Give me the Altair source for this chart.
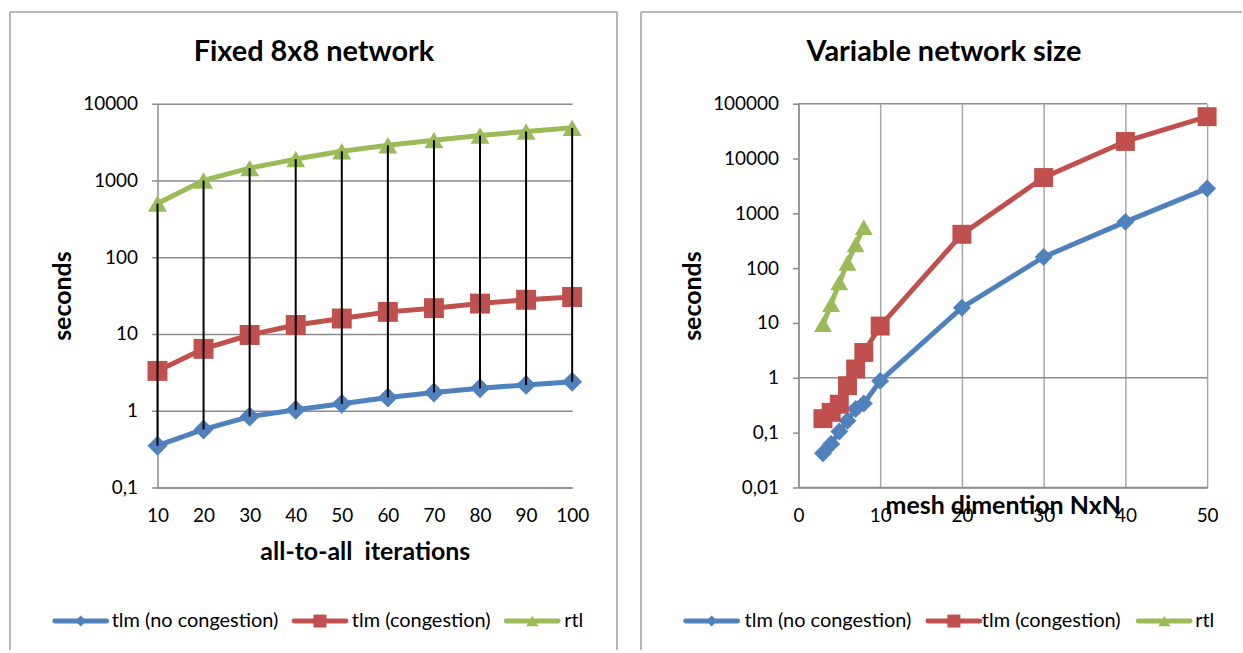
import altair as alt
import pandas as pd

# ---------------- data ----------------
series_names = ["tlm (no congestion)", "tlm (congestion)", "rtl"]
series_colors = ["#4f81bd", "#c0504d", "#9bbb59"]
series_shapes = ["diamond", "square", "triangle-up"]

# left panel: fixed 8x8 network
iterations = [10, 20, 30, 40, 50, 60, 70, 80, 90, 100]
left_tlm_nc = [0.35, 0.57, 0.84, 1.03, 1.23, 1.49, 1.73, 1.96, 2.17, 2.38]
left_tlm_c = [3.3, 6.4, 9.7, 13.1, 15.9, 19.4, 21.7, 24.9, 27.9, 30.3]
left_rtl = [500, 1000, 1450, 1900, 2400, 2870, 3350, 3850, 4350, 4850]

# right panel: variable network size
mesh_dim = [3, 4, 5, 6, 7, 8, 10, 20, 30, 40, 50]
right_tlm_nc = [0.042, 0.062, 0.105, 0.165, 0.27, 0.34, 0.88, 19, 160, 700, 2850]
right_tlm_c = [0.18, 0.235, 0.33, 0.72, 1.45, 2.9, 8.8, 415, 4500, 20500, 58000]
rtl_dim = [3, 4, 5, 6, 7, 8]
right_rtl = [9.5, 22, 55, 125, 270, 560]

left_y_ticks = [0.1, 1, 10, 100, 1000, 10000]
right_y_ticks = [0.01, 0.1, 1, 10, 100, 1000, 10000, 100000]
right_x_ticks = [0, 10, 20, 30, 40, 50]
right_hlines = [0.01, 1, 100000]

titles = ["Fixed 8x8 network", "Variable network size"]
x_titles = ["all-to-all\u00a0 iterations", "mesh dimention NxN"]
y_title = "seconds"

FONT = "Lato"
GRID = "#8c8c8c"
AXIS = "#8c8c8c"

left_df = pd.DataFrame(
    [{"x": x, "value": v, "series": s}
     for s, vals in zip(series_names, [left_tlm_nc, left_tlm_c, left_rtl])
     for x, v in zip(iterations, vals)]
)
right_df = pd.DataFrame(
    [{"x": x, "value": v, "series": s}
     for s, xs, vals in zip(series_names,
                            [mesh_dim, mesh_dim, rtl_dim],
                            [right_tlm_nc, right_tlm_c, right_rtl])
     for x, v in zip(xs, vals)]
)

color_scale = alt.Scale(domain=series_names, range=series_colors)

LABEL_EXPR = "replace(toString(datum.value), '.', ',')"
TICK_FS = 19
AX_TITLE_FS = 25
LEGEND_MARKER_SIZES = [120, 169, 150]


def legend_layers(symbol_centers, label_starts, ly):
    """Legend drawn below the plot: thick line + marker + label per series."""
    out = []
    one = pd.DataFrame({"k": [0]})
    for name, col, shp, msz, cx, lx in zip(series_names, series_colors, series_shapes,
                                           LEGEND_MARKER_SIZES, symbol_centers, label_starts):
        out.append(alt.Chart(one).mark_rule(color=col, strokeWidth=5, strokeCap="round").encode(
            x=alt.value(cx - 26), x2=alt.value(cx + 26), y=alt.value(ly)))
        out.append(alt.Chart(one).mark_point(shape=shp, filled=True, size=msz, opacity=1,
                                             color=col, strokeWidth=0).encode(
            x=alt.value(cx), y=alt.value(ly)))
        out.append(alt.Chart(pd.DataFrame({"t": [name]})).mark_text(
            font=FONT, fontSize=20, align="left", baseline="middle", color="black").encode(
            text="t:N", x=alt.value(lx), y=alt.value(ly)))
    return out


def panel(df, width, height, xscale, xaxis, yscale, yaxis, border, title_x,
          legend_spec, sizes, highlow):
    X = lambda: alt.X("x:Q", scale=xscale, axis=xaxis)
    Y = lambda f="value": alt.Y(f, type="quantitative", scale=yscale, axis=yaxis)
    one = pd.DataFrame({"k": [0]})
    bl, br, bt, bb, has_right = border
    layers = []
    layers.append(alt.Chart(one).mark_rule(color="#a0a0a0", strokeWidth=1.5).encode(
        x=alt.value(bl), y=alt.value(bt), y2=alt.value(bb)))
    layers.append(alt.Chart(one).mark_rule(color="#a0a0a0", strokeWidth=1.5).encode(
        x=alt.value(bl), x2=alt.value(br), y=alt.value(bt)))
    if has_right:
        layers.append(alt.Chart(one).mark_rule(color="#a0a0a0", strokeWidth=1.5).encode(
            x=alt.value(br), y=alt.value(bt), y2=alt.value(bb)))
    layers.append(
        alt.Chart(pd.DataFrame({"t": [title_x[0]]})).mark_text(
            font=FONT, fontWeight="bold", fontSize=29, align="center",
            baseline="middle", color="black"
        ).encode(text="t:N", x=alt.value(title_x[1]), y=alt.value(-52))
    )
    if title_x[2] is not None:
        layers.append(
            alt.Chart(pd.DataFrame({"value": title_x[2]})).mark_rule(
                color=GRID, strokeWidth=1.5
            ).encode(y=Y(), x=alt.value(0), x2=alt.value(width))
        )
    layers.append(
        alt.Chart(df).mark_line(strokeWidth=5, strokeJoin="round").encode(
            x=X(), y=Y(),
            color=alt.Color("series:N", scale=color_scale, legend=None),
        )
    )
    for name, col, shp, sz in zip(series_names, series_colors, series_shapes, sizes):
        layers.append(
            alt.Chart(df).transform_filter(alt.datum.series == name).mark_point(
                shape=shp, filled=True, size=sz, opacity=1, color=col, strokeWidth=0
            ).encode(x=X(), y=Y())
        )
    if highlow:
        layers.append(
            alt.Chart(df).mark_rule(color="black", strokeWidth=2).encode(
                x=X(), y=Y("min(value)"), y2=alt.Y2("max(value)")
            )
        )
    layers.extend(legend_layers(*legend_spec))
    return alt.layer(*layers).properties(width=width, height=height)


LW, RW, H = 416, 410, 385

left = panel(
    left_df, LW, H,
    alt.Scale(domain=[10, 100], nice=False, zero=False),
    alt.Axis(values=iterations, grid=False, ticks=False, tickSize=0, labelPadding=19,
             labelFlush=False, labelFont=FONT, labelFontSize=TICK_FS, labelColor="black",
             domainColor=AXIS, domainWidth=1.5,
             title=x_titles[0], titleFont=FONT, titleFontSize=AX_TITLE_FS, titleFontWeight="bold",
             titleColor="black", titleX=LW / 2, titleY=64, titleBaseline="middle",
             titleAlign="center"),
    alt.Scale(type="log", domain=[0.1, 10000], nice=False),
    alt.Axis(values=left_y_ticks, labelExpr=LABEL_EXPR, grid=True, gridColor=GRID,
             gridWidth=1.5, domainColor=AXIS, domainWidth=1.5, tickColor=AXIS,
             tickWidth=1.5, tickSize=6, labelPadding=14, labelFont=FONT,
             labelFontSize=TICK_FS, labelColor="black",
             title=y_title, titleFont=FONT, titleFontSize=AX_TITLE_FS, titleFontWeight="bold",
             titleColor="black", titleX=-95, titleY=H / 2, titleAngle=270,
             titleBaseline="middle", titleAlign="center"),
    (-148, 461, -92, 548, True),
    (titles[0], 157, None),
    ([-77, 163, 376], [-46, 195, 408], 519),
    [400, 400, 361],
    True,
)

right = panel(
    right_df, RW, H,
    alt.Scale(domain=[0, 50], nice=False, zero=False),
    alt.Axis(values=right_x_ticks, grid=True, gridColor="#a6a6a6", gridWidth=1.5,
             ticks=False, tickSize=0, labelPadding=19, labelFlush=False,
             labelFont=FONT, labelFontSize=TICK_FS, labelColor="black",
             domainColor=AXIS, domainWidth=1.5,
             title=x_titles[1], titleFont=FONT, titleFontSize=AX_TITLE_FS, titleFontWeight="bold",
             titleColor="black", titleX=205, titleY=18, titleBaseline="middle",
             titleAlign="center"),
    alt.Scale(type="log", domain=[0.01, 100000], nice=False),
    alt.Axis(values=right_y_ticks, labelExpr=LABEL_EXPR, grid=False,
             domainColor=AXIS, domainWidth=1.5, tickColor=AXIS,
             tickWidth=1.5, tickSize=6, labelPadding=14, labelFont=FONT,
             labelFontSize=TICK_FS, labelColor="black",
             title=y_title, titleFont=FONT, titleFontSize=AX_TITLE_FS, titleFontWeight="bold",
             titleColor="black", titleX=-106, titleY=H / 2, titleAngle=270,
             titleBaseline="middle", titleAlign="center"),
    (-158, 445, -92, 548, False),
    (titles[1], 146, right_hlines),
    ([-87, 156, 367], [-54, 184, 398], 519),
    [324, 361, 324],
    False,
)

chart = alt.hconcat(left, right, spacing=22).properties(
    padding={"left": 9, "top": 10, "right": 0, "bottom": 0},
    background="white",
).configure(font=FONT).configure_view(stroke=None)

chart.save("out.html", embed_options={"renderer": "svg", "actions": False})
